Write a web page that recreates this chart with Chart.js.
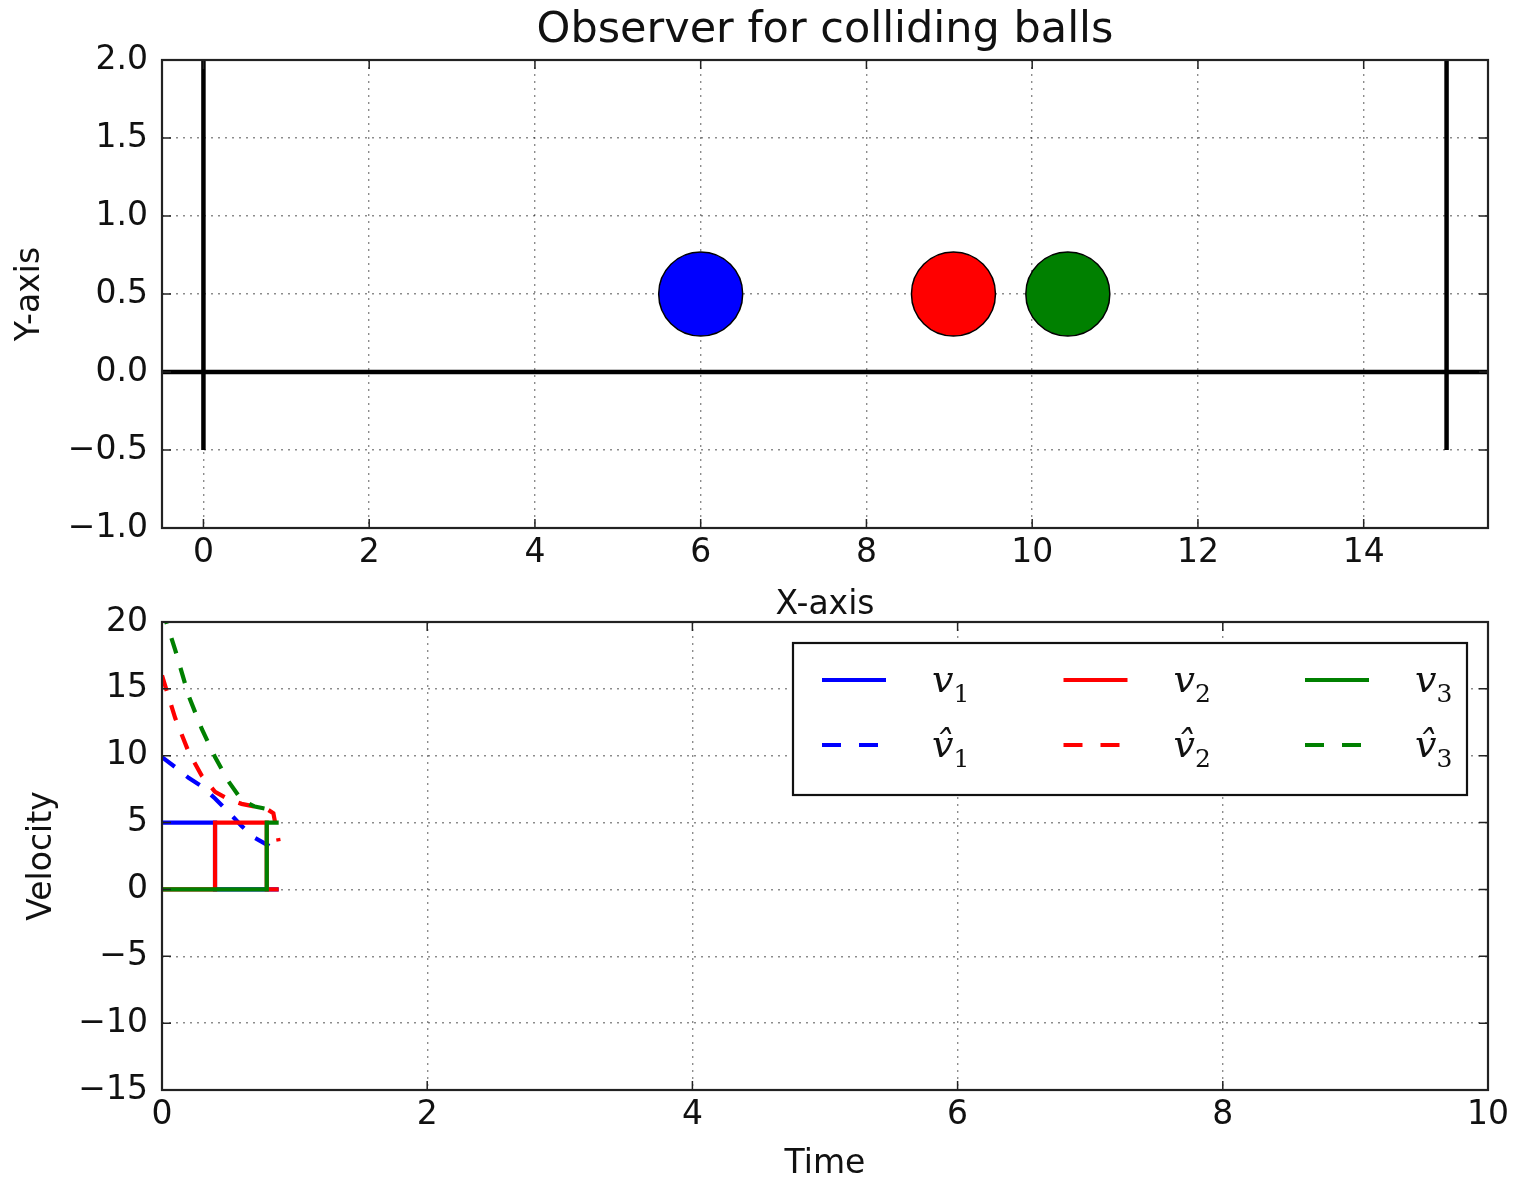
<!DOCTYPE html>
<html>
<head>
<meta charset="utf-8">
<title>Observer for colliding balls</title>
<script src="https://cdn.jsdelivr.net/npm/chart.js@4.4.0/dist/chart.umd.min.js"></script>
<style>
  html, body { margin: 0; padding: 0; background: #fff; }
  #wrap { position: relative; width: 1516px; height: 1185px; overflow: hidden; }
  #chart-pos { position: absolute; left: 0; top: 0; }
  #chart-vel { position: absolute; left: 0; top: 580px; }
</style>
</head>
<body>
<div id="wrap">
  <canvas id="chart-pos" width="1516" height="622"></canvas>
  <canvas id="chart-vel" width="1516" height="605"></canvas>
</div>
<script>
// ─── DADOS: posição (gráfico de cima) ──────────────────────────────────────
const posTicksX = [0, 2, 4, 6, 8, 10, 12, 14];
const posTicksY = [-1.0, -0.5, 0.0, 0.5, 1.0, 1.5, 2.0];
const wallLeftX  = [0, 0];
const wallRightX = [15, 15];
const wallY      = [-0.5, 2.0];
const floorX     = [-0.5, 15.5];
const floorY     = [0, 0];
const ballNames  = ['ball 1', 'ball 2', 'ball 3'];
const ballX      = [6.0, 9.05, 10.43];
const ballY      = [0.5, 0.5, 0.5];
const ballColors = ['#0000ff', '#ff0000', '#008000'];

// ─── DADOS: velocidade (gráfico de baixo) ──────────────────────────────────
const timeTicks = [0, 2, 4, 6, 8, 10];
const velTicks  = [-15, -10, -5, 0, 5, 10, 15, 20];
const t1 = [0, 0.40, 0.40, 0.88];
const v1 = [5, 5, 0, 0];
const t2 = [0, 0.40, 0.40, 0.79, 0.79, 0.88];
const v2 = [0, 0, 5, 5, 0, 0];
const t3 = [0, 0.79, 0.79, 0.88];
const v3 = [0, 0, 5, 5];
const tHat  = [0, 0.1, 0.2, 0.3, 0.4, 0.5, 0.6, 0.7, 0.8, 0.84, 0.88];
const v1Hat = [9.9, 9.15, 8.35, 7.7, 6.8, 5.8, 4.75, 3.85, 3.3, 3.05, 2.7];
const v2Hat = [16.0, 12.8, 10.3, 8.5, 7.3, 6.75, 6.4, 6.2, 5.95, 5.7, 3.6];
const v3Hat = [21.0, 17.9, 14.5, 12.0, 9.9, 8.1, 6.7, 6.2, 6.0, 5.9, 5.9];

const FONT = 'DejaVu Sans';
const INK  = '#111';

const pts = (xs, ys) => xs.map((x, i) => ({ x, y: ys[i] }));
const minus = s => s.replace('-', '\u2212');

// eixo linear com ticks fixos, grade pontilhada
function axis(ticks, min, max, title, fmt, o) {
  return {
    type: 'linear',
    min, max,
    afterBuildTicks: s => { s.ticks = ticks.map(v => ({ value: v })); },
    afterFit: s => {
      if (o.width) s.width = o.width;
      if (o.height) s.height = o.height;
      // área do gráfico fixa: sem folga extra p/ rótulos nas bordas
      s.paddingLeft = s.paddingRight = s.paddingTop = s.paddingBottom = 0;
    },
    ticks: {
      color: INK,
      font: { family: FONT, size: 33 },
      padding: o.tickPad,
      callback: v => minus(fmt(v)),
    },
    grid: { color: 'rgba(0,0,0,0.45)', lineWidth: 1.4, drawTicks: false },
    border: { display: false, dash: [2, 5] },
    title: {
      display: true, text: title, color: INK,
      font: { family: FONT, size: 33, lineHeight: 1 },
      padding: o.titlePad,
    },
  };
}

// moldura + ticks para dentro (estilo matplotlib)
const framePlugin = {
  id: 'frame',
  afterDatasetsDraw(chart) {
    const { ctx, chartArea: ca, scales } = chart;
    ctx.save();
    ctx.strokeStyle = '#222';
    ctx.lineWidth = 1.5;
    ctx.beginPath();
    for (const t of scales.x.ticks) {
      const px = scales.x.getPixelForValue(t.value);
      ctx.moveTo(px, ca.bottom); ctx.lineTo(px, ca.bottom - 9);
      ctx.moveTo(px, ca.top);    ctx.lineTo(px, ca.top + 9);
    }
    for (const t of scales.y.ticks) {
      const py = scales.y.getPixelForValue(t.value);
      ctx.moveTo(ca.left, py);  ctx.lineTo(ca.left + 9, py);
      ctx.moveTo(ca.right, py); ctx.lineTo(ca.right - 9, py);
    }
    ctx.stroke();
    ctx.lineWidth = 2.2;
    ctx.strokeRect(ca.left, ca.top, ca.right - ca.left, ca.bottom - ca.top);
    ctx.restore();
  },
};

// título centralizado na área do gráfico
const titlePlugin = {
  id: 'plotTitle',
  afterDraw(chart, args, opts) {
    if (!opts.text) return;
    const { ctx, chartArea: ca } = chart;
    ctx.save();
    ctx.fillStyle = INK;
    ctx.font = `43px "${FONT}"`;
    ctx.textAlign = 'center';
    ctx.textBaseline = 'middle';
    ctx.fillText(opts.text, (ca.left + ca.right) / 2, opts.y);
    ctx.restore();
  },
};

// legenda 3 colunas x 2 linhas, canto superior direito
const legendPlugin = {
  id: 'obsLegend',
  afterDraw(chart) {
    const { ctx, chartArea: ca } = chart;
    const w = 674, h = 152;
    const x0 = ca.right - 21 - w, y0 = ca.top + 21;
    ctx.save();
    ctx.fillStyle = '#fff';
    ctx.fillRect(x0, y0, w, h);
    ctx.strokeStyle = '#111';
    ctx.lineWidth = 2.2;
    ctx.strokeRect(x0, y0, w, h);
    chart.data.datasets.forEach((ds, i) => {
      const col = Math.floor(i / 2), row = i % 2;
      const lx = x0 + 29 + col * 241.5, ly = y0 + 37 + row * 65;
      const dashed = (ds.borderDash || []).length > 0;
      ctx.strokeStyle = ds.borderColor;
      ctx.lineWidth = ds.borderWidth;
      ctx.setLineDash(dashed ? [19, 18] : []);
      ctx.beginPath();
      ctx.moveTo(lx, ly); ctx.lineTo(lx + (dashed ? 56 : 64), ly);
      ctx.stroke();
      ctx.setLineDash([]);

      const [base, sub] = ds.label.split('_');
      const tx = lx + 110, ty = ly + 12;
      ctx.fillStyle = INK;
      ctx.textAlign = 'left';
      ctx.textBaseline = 'alphabetic';
      ctx.font = 'italic 38px "DejaVu Serif"';
      ctx.fillText(base, tx, ty);
      const bw = ctx.measureText('v').width;
      ctx.font = '25px "DejaVu Serif"';
      ctx.fillText(sub, tx + bw, ty + 10);
    });
    ctx.restore();
  },
};

Chart.defaults.animation = false;
Chart.defaults.events = [];

// ─── GRÁFICO DE POSIÇÃO ────────────────────────────────────────────────────
const wallStyle = {
  type: 'line', borderColor: '#000', borderWidth: 4.5,
  pointRadius: 0, fill: false, tension: 0,
};

new Chart(document.getElementById('chart-pos'), {
  type: 'scatter',
  data: {
    datasets: [
      ...ballNames.map((name, i) => ({
        label: name,
        data: [{ x: ballX[i], y: ballY[i] }],
        pointRadius: 42,
        pointBackgroundColor: ballColors[i],
        pointBorderColor: '#000',
        pointBorderWidth: 1.5,
        clip: false,
      })),
      { label: 'floor', data: pts(floorX, floorY), ...wallStyle },
      { label: 'left wall', data: pts(wallLeftX, wallY), ...wallStyle },
      { label: 'right wall', data: pts(wallRightX, wallY), ...wallStyle },
    ],
  },
  options: {
    responsive: false,
    layout: { autoPadding: false, padding: { top: 60, right: 28, left: 0, bottom: 0 } },
    plugins: {
      legend: { display: false },
      tooltip: { enabled: false },
      plotTitle: { text: 'Observer for colliding balls', y: 31 },
    },
    scales: {
      x: axis(posTicksX, -0.5, 15.5, 'X-axis', v => String(v),
              { height: 94, tickPad: 6, titlePad: { bottom: 0, top: 0 } }),
      y: axis(posTicksY, -1.0, 2.0, 'Y-axis', v => v.toFixed(1),
              { width: 162, tickPad: 14, titlePad: { top: 14, bottom: 0 } }),
    },
  },
  plugins: [framePlugin, titlePlugin],
});

// ─── GRÁFICO DE VELOCIDADE ─────────────────────────────────────────────────
const lineStyle = (color, dashed) => ({
  type: 'line', borderColor: color, borderWidth: 4.2,
  borderDash: dashed ? [16, 15] : [],
  pointRadius: 0, fill: false, tension: 0,
});

const velSeries = [
  { label: 'v_1',       t: t1,   v: v1,    color: '#0000ff', dashed: false },
  { label: 'v\u0302_1', t: tHat, v: v1Hat, color: '#0000ff', dashed: true },
  { label: 'v_2',       t: t2,   v: v2,    color: '#ff0000', dashed: false },
  { label: 'v\u0302_2', t: tHat, v: v2Hat, color: '#ff0000', dashed: true },
  { label: 'v_3',       t: t3,   v: v3,    color: '#008000', dashed: false },
  { label: 'v\u0302_3', t: tHat, v: v3Hat, color: '#008000', dashed: true },
];

new Chart(document.getElementById('chart-vel'), {
  type: 'scatter',
  data: {
    datasets: velSeries.map((s, i) => ({
      label: s.label,
      data: pts(s.t, s.v),
      order: velSeries.length - i,
      ...lineStyle(s.color, s.dashed),
    })),
  },
  options: {
    responsive: false,
    layout: { autoPadding: false, padding: { top: 42, right: 28, left: 0, bottom: 0 } },
    plugins: {
      legend: { display: false },
      tooltip: { enabled: false },
    },
    scales: {
      x: axis(timeTicks, 0, 10, 'Time', v => String(v),
              { height: 95, tickPad: 6, titlePad: { bottom: 4, top: 0 } }),
      y: axis(velTicks, -15, 20, 'Velocity', v => String(v),
              { width: 162, tickPad: 14, titlePad: { top: 26, bottom: 0 } }),
    },
  },
  plugins: [framePlugin, legendPlugin],
});
</script>
</body>
</html>
